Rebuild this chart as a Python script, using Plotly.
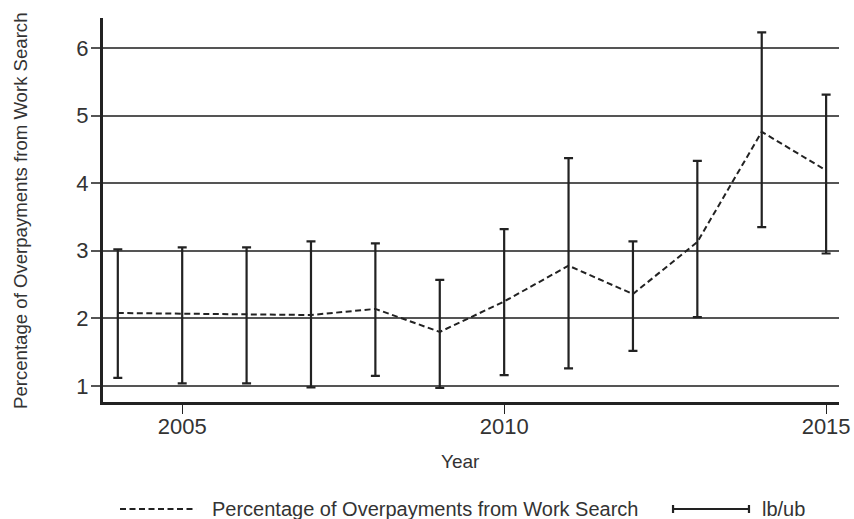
import plotly.graph_objects as go

# Share of overpayments attributed to work-search issues, with lower/upper bounds
years = [2004, 2005, 2006, 2007, 2008, 2009, 2010, 2011, 2012, 2013, 2014, 2015]
pct = [2.08, 2.07, 2.06, 2.05, 2.14, 1.80, 2.25, 2.78, 2.36, 3.13, 4.76, 4.19]
lb = [1.12, 1.04, 1.04, 0.98, 1.15, 0.97, 1.16, 1.26, 1.52, 2.02, 3.35, 2.96]
ub = [3.02, 3.05, 3.05, 3.14, 3.11, 2.57, 3.32, 4.37, 3.14, 4.33, 6.23, 5.31]

x_ticks = [2005, 2010, 2015]
y_ticks = [1, 2, 3, 4, 5, 6]

series_name = "Percentage of Overpayments from Work Search"
bounds_name = "lb/ub"

INK = "#222222"
TEXT = "#333333"
FONT = "Liberation Sans, Arial, sans-serif"

fig = go.Figure()

# Confidence bounds as error bars around each yearly value
fig.add_trace(go.Scatter(
    x=years, y=pct, mode="markers",
    marker=dict(size=1, color="rgba(0,0,0,0)"),
    error_y=dict(
        type="data", symmetric=False,
        array=[u - p for u, p in zip(ub, pct)],
        arrayminus=[p - l for p, l in zip(pct, lb)],
        color=INK, thickness=2.2, width=4.5,
    ),
    name=bounds_name, showlegend=False, hoverinfo="skip",
))

# Dashed line of the point estimates
fig.add_trace(go.Scatter(
    x=years, y=pct, mode="lines",
    line=dict(color=INK, width=2, dash="6px,3.5px"),
    name=series_name, showlegend=False,
))

# Hand-drawn legend below the plot
leg_y = -0.2786
cap = 0.0104
shapes = [
    dict(type="line", xref="paper", yref="paper",
         x0=0.0231, x1=0.1264, y0=leg_y, y1=leg_y,
         line=dict(color=INK, width=2, dash="6px,3.5px")),
    dict(type="line", xref="paper", yref="paper",
         x0=0.7745, x1=0.8777, y0=leg_y, y1=leg_y,
         line=dict(color=INK, width=2.2)),
    dict(type="line", xref="paper", yref="paper",
         x0=0.7745, x1=0.7745, y0=leg_y - cap, y1=leg_y + cap,
         line=dict(color=INK, width=2.2)),
    dict(type="line", xref="paper", yref="paper",
         x0=0.8777, x1=0.8777, y0=leg_y - cap, y1=leg_y + cap,
         line=dict(color=INK, width=2.2)),
]

annotations = [
    dict(text=series_name, xref="paper", yref="paper", x=0.1454, y=leg_y,
         xanchor="left", yanchor="middle", showarrow=False,
         font=dict(family=FONT, size=20, color=TEXT)),
    dict(text=bounds_name, xref="paper", yref="paper", x=0.8927, y=leg_y,
         xanchor="left", yanchor="middle", showarrow=False,
         font=dict(family=FONT, size=20, color=TEXT)),
    dict(text="Year", xref="paper", yref="paper", x=0.4864, y=-0.156,
         xanchor="center", yanchor="middle", showarrow=False,
         font=dict(family=FONT, size=19, color=TEXT)),
    dict(text=series_name, xref="paper", yref="paper", x=-0.1128, y=0.5,
         xanchor="center", yanchor="middle", showarrow=False, textangle=-90,
         font=dict(family=FONT, size=18.6, color=TEXT)),
]

fig.update_layout(
    width=854, height=519,
    margin=dict(l=103, r=15, t=18, b=117),
    paper_bgcolor="white", plot_bgcolor="white",
    font=dict(family=FONT, size=22, color=TEXT),
    showlegend=False,
    shapes=shapes,
    annotations=annotations,
)

fig.update_xaxes(
    range=[2003.77, 2015.2], automargin=False,
    tickmode="array", tickvals=x_ticks, ticktext=[str(v) for v in x_ticks],
    ticks="outside", ticklen=9, tickwidth=1.2, tickcolor=INK,
    ticklabelstandoff=-6,
    showgrid=False, zeroline=False,
    showline=True, linewidth=3, linecolor=INK,
    tickfont=dict(size=22, color=TEXT),
)

fig.update_yaxes(
    range=[0.763, 6.444], automargin=False,
    tickmode="array", tickvals=y_ticks, ticktext=[str(v) for v in y_ticks],
    ticks="outside", ticklen=9, tickwidth=1.6, tickcolor="#555555",
    ticklabelstandoff=-2,
    showgrid=True, gridcolor="#555555", gridwidth=1.6,
    zeroline=False,
    showline=True, linewidth=3, linecolor=INK,
    tickfont=dict(size=22, color=TEXT),
)

fig.write_html("out.html")
